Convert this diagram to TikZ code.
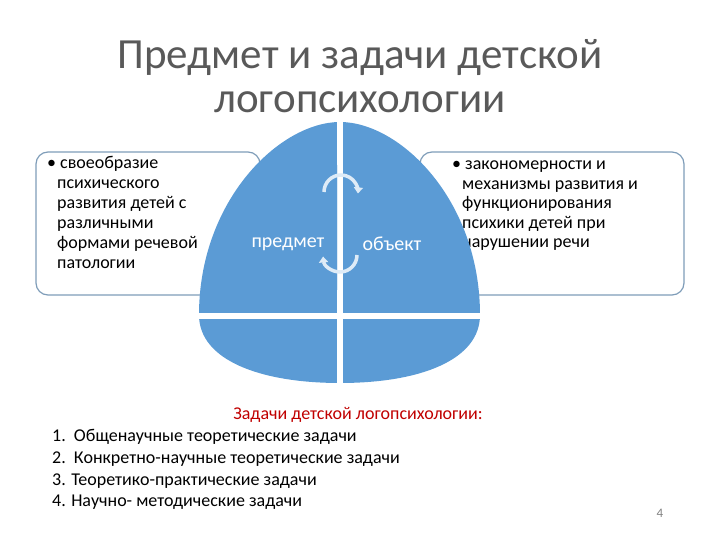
\documentclass[tikz,border=0pt]{standalone}
\usepackage{fontspec}
\setmainfont{Carlito}
\usetikzlibrary{arrows.meta}
\definecolor{domeblue}{HTML}{5B9BD5}
\definecolor{boxline}{HTML}{7F9DB9}
\definecolor{titlegrey}{HTML}{595959}
\definecolor{redtxt}{HTML}{C00000}
\tikzset{
  sidebox/.style={draw=boxline,line width=1.2pt,rounded corners=12pt,fill=white},
  boxtext/.style={anchor=north west,align=left,font=\fontsize{18}{20}\selectfont,inner sep=0pt},
  lbl/.style={text=white,font=\fontsize{20}{22}\selectfont},
  cyc/.style={line width=3.5pt,white!80!domeblue,-{Triangle[length=6pt,width=9pt]}},
  listline/.style={anchor=west,font=\fontsize{18}{20}\selectfont,inner sep=0pt}
}
\begin{document}
\begin{tikzpicture}[x=1pt,y=-1pt]
\useasboundingbox (0,0) rectangle (720,540);
\node[font=\fontsize{43}{46}\selectfont,text=titlegrey] (t1) at (360,58) {Предмет и задачи детской};
\node[font=\fontsize{43}{46}\selectfont,text=titlegrey] (t2) at (360,102) {логопсихологии};
\draw[sidebox] (36,152) rectangle (260,295);
\draw[sidebox] (420,152) rectangle (684,295);
\node[boxtext] (lt) at (47,156) {\textbullet\ своеобразие\\
\hspace*{10pt}психического\\ \hspace*{10pt}развития детей с\\ \hspace*{10pt}различными\\
\hspace*{10pt}формами речевой\\ \hspace*{10pt}патологии};
\node[boxtext,font=\fontsize{18}{19.5}\selectfont] (rt) at (452,161) {\textbullet\ закономерности и\\
\hspace*{10pt}механизмы развития и\\ \hspace*{10pt}функционирования\\ \hspace*{10pt}психики детей при\\
\hspace*{10pt}нарушении речи};
\fill[domeblue] (199,315) .. controls (199,200) and (280,122) .. (340,122)
  .. controls (400,122) and (480,200) .. (480,315)
  .. controls (480,360) and (420,383) .. (340,383)
  .. controls (260,383) and (199,360) .. (199,315);
\draw[white,line width=6pt] (340,118) -- (340,386);
\draw[white,line width=6pt] (195,316) -- (484,316);
\draw[white!80!domeblue,line width=0.8pt] (337,165) -- (337,290);
\draw[cyc] (324,192) arc[start angle=180,end angle=365,radius=17];
\draw[cyc] (357,255) arc[start angle=0,end angle=175,radius=17];
\node[lbl] (p) at (288,244) {предмет};
\node[lbl] (o) at (392,244) {объект};
\node[font=\fontsize{18}{20}\selectfont,text=redtxt] (z) at (358,415) {Задачи детской логопсихологии:};
\node[listline] (l1) at (52,437) {1.\ \ Общенаучные теоретические задачи};
\node[listline] (l2) at (52,459) {2.\ \ Конкретно-научные теоретические задачи};
\node[listline] (l3) at (52,481) {3. Теоретико-практические задачи};
\node[listline] (l4) at (52,502) {4. Научно- методические задачи};
\node[font=\fontsize{13}{14}\selectfont,text=gray] (pg) at (660,513) {4};
\end{tikzpicture}
\end{document}
